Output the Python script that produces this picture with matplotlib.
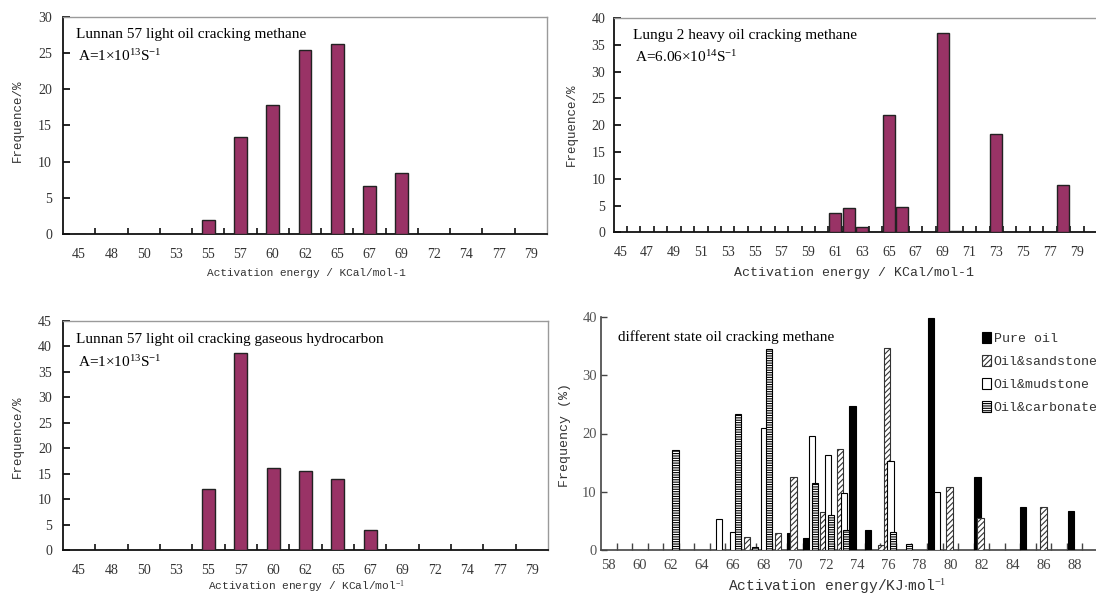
import matplotlib
matplotlib.use("Agg")
import matplotlib.pyplot as plt
from matplotlib.ticker import FixedLocator, MultipleLocator

# ---------------- data ----------------
cats1 = ["45", "48", "50", "53", "55", "57", "60", "62", "65", "67", "69", "72", "74", "77", "79"]
methane_light = [0, 0, 0, 0, 2.0, 13.4, 17.9, 25.5, 26.3, 6.7, 8.5, 0, 0, 0, 0]
gas_light = [0, 0, 0, 0, 12.0, 38.8, 16.1, 15.5, 14.0, 3.9, 0, 0, 0, 0, 0]

heavy_cats = [45, 46, 47, 48, 49, 50, 51, 52, 53, 54, 55, 56, 57, 58, 59, 60, 61, 62,
              63, 64, 65, 66, 67, 68, 69, 70, 71, 72, 73, 74, 75, 76, 77, 78, 79, 80]
heavy_e = [61, 62, 63, 65, 66, 69, 70, 73, 78]
heavy_v = [3.6, 4.5, 0.95, 21.9, 4.7, 37.2, 0.2, 18.4, 8.85]

pure_e = [69.7, 70.7, 73.7, 74.7, 78.75, 81.75, 84.7, 87.8]
pure_v = [2.9, 2.0, 24.8, 3.4, 39.8, 12.5, 7.4, 6.7]
sand_e = [66.9, 68.9, 69.9, 71.8, 72.9, 75.55, 75.9, 79.95, 81.95, 86.0]
sand_v = [2.2, 2.9, 12.5, 6.5, 17.4, 0.8, 34.7, 10.8, 5.4, 7.4]
mud_e = [65.1, 66.0, 68.0, 71.1, 72.1, 73.15, 76.15, 79.15]
mud_v = [5.2, 3.1, 21.0, 19.5, 16.3, 9.8, 15.2, 10.0]
carb_e = [62.3, 66.3, 67.4, 68.3, 71.3, 72.3, 73.3, 76.3, 77.35]
carb_v = [17.2, 23.4, 0.5, 34.5, 11.4, 6.0, 3.4, 3.0, 1.0]
diff_labels = ["58", "60", "62", "64", "66", "68", "70", "72", "74", "76", "78", "80", "82", "84", "86", "88"]
diff_ticks = [58, 60, 62, 64, 66, 68, 70, 72, 74, 76, 78, 80, 82, 84, 86, 88]

# ---------------- style ----------------
plt.rcParams["mathtext.fontset"] = "custom"
plt.rcParams["mathtext.rm"] = "Liberation Serif"
plt.rcParams["mathtext.it"] = "Liberation Serif:italic"
plt.rcParams["hatch.linewidth"] = 0.8
SERIF = "Liberation Serif"
MONO = "Liberation Mono"
BAR = "#993366"
TXT = "#333333"

W, H = 1096, 596
fig = plt.figure(figsize=(W / 100, H / 100), dpi=100)


def px_axes(l, t, r, b):
    return fig.add_axes([l / W, 1 - b / H, (r - l) / W, (b - t) / H])


def excel_frame(ax):
    for s in ("left", "bottom"):
        ax.spines[s].set_color("#111111")
        ax.spines[s].set_linewidth(1.3)
    for s in ("top", "right"):
        ax.spines[s].set_color("#9a9a9a")
        ax.spines[s].set_linewidth(1.0)


def cat_panel(ax, cats, vals, ymax, ystep, title, aline):
    x = list(range(len(cats)))
    ax.bar(x, vals, width=0.4, color=BAR, edgecolor="#222222", linewidth=1.0, zorder=3)
    ax.set_xlim(-0.5, len(cats) - 0.5)
    ax.set_ylim(0, ymax)
    ax.set_xticks(x)
    ax.set_xticklabels(cats, fontfamily=SERIF, fontsize=10, color=TXT)
    ax.xaxis.set_minor_locator(FixedLocator([i + 0.5 for i in range(len(cats) - 1)]))
    ax.tick_params(axis="x", which="major", length=0, pad=10)
    ax.tick_params(axis="x", which="minor", direction="in", length=4, width=1.2, color="#111111")
    ax.yaxis.set_major_locator(MultipleLocator(ystep))
    ax.tick_params(axis="y", direction="in", length=5, width=1.2, pad=8, labelsize=10, labelcolor=TXT)
    for t in ax.get_yticklabels():
        t.set_fontfamily(SERIF)
    excel_frame(ax)
    ax.text(0.027, 0.92, title, transform=ax.transAxes, fontfamily=SERIF, fontsize=11, va="center")
    ax.text(0.03, 0.82, aline, transform=ax.transAxes, fontfamily=SERIF, fontsize=11, va="center")


# ---- panel 1 ----
ax1 = px_axes(63, 17, 547, 234)
cat_panel(ax1, cats1, methane_light, 30, 5, "Lunnan 57 light oil cracking methane",
          r"A=1$\times$10$^{\mathrm{13}}$S$^{\mathrm{-1}}$")
fig.text(306 / W, 1 - 273 / H, "Activation energy / KCal/mol-1", fontfamily=MONO, fontsize=8,
         color=TXT, ha="center", va="center")
fig.text(18 / W, 1 - 121 / H, "Frequence/%", fontfamily=MONO, fontsize=9, color=TXT,
         rotation=90, ha="center", va="center")

# ---- panel 2 ----
ax2 = px_axes(613.6, 18, 1097, 232.3)
ax2.bar(heavy_e, heavy_v, width=0.9, color=BAR, edgecolor="#222222", linewidth=1.0, zorder=3)
ax2.set_xlim(heavy_cats[0] - 0.5, heavy_cats[-1] + 0.5)
ax2.set_ylim(0, 40)
ax2.set_xticks(heavy_cats[::2])
ax2.set_xticklabels([str(c) for c in heavy_cats[::2]], fontfamily=SERIF, fontsize=10, color=TXT)
ax2.xaxis.set_minor_locator(FixedLocator([c + 0.5 for c in heavy_cats[:-1]]))
ax2.tick_params(axis="x", which="major", length=0, pad=10)
ax2.tick_params(axis="x", which="minor", direction="in", length=4, width=1.2, color="#111111")
ax2.yaxis.set_major_locator(MultipleLocator(5))
ax2.tick_params(axis="y", direction="in", length=5, width=1.2, pad=6, labelsize=10, labelcolor=TXT)
for t in ax2.get_yticklabels():
    t.set_fontfamily(SERIF)
excel_frame(ax2)
ax2.spines["right"].set_visible(False)
ax2.text(0.04, 0.92, "Lungu 2 heavy oil cracking methane", transform=ax2.transAxes,
         fontfamily=SERIF, fontsize=11, va="center")
ax2.text(0.045, 0.82, r"A=6.06$\times$10$^{\mathrm{14}}$S$^{\mathrm{-1}}$", transform=ax2.transAxes,
         fontfamily=SERIF, fontsize=11, va="center")
fig.text(854 / W, 1 - 273 / H, "Activation energy / KCal/mol-1", fontfamily=MONO, fontsize=9.5,
         color=TXT, ha="center", va="center")
fig.text(572 / W, 1 - 125 / H, "Frequence/%", fontfamily=MONO, fontsize=9, color=TXT,
         rotation=90, ha="center", va="center")

# ---- panel 3 ----
ax3 = px_axes(63, 321, 548, 550)
cat_panel(ax3, cats1, gas_light, 45, 5, "Lunnan 57 light oil cracking gaseous hydrocarbon",
          r"A=1$\times$10$^{\mathrm{13}}$S$^{\mathrm{-1}}$")
fig.text(306 / W, 1 - 587 / H, r"Activation energy / KCal/mol$^{\mathrm{-1}}$", fontfamily=MONO,
         fontsize=8, color=TXT, ha="center", va="center")
fig.text(18 / W, 1 - 437 / H, "Frequence/%", fontfamily=MONO, fontsize=9, color=TXT,
         rotation=90, ha="center", va="center")

# ---- panel 4 ----
ax4 = px_axes(601, 317.3, 1097, 549.7)
bw = 0.4
ax4.bar(pure_e, pure_v, width=bw, color="black", edgecolor="black", linewidth=0.8, zorder=3,
        label="Pure oil")
ax4.bar(sand_e, sand_v, width=bw, color="white", edgecolor="#333333", hatch="//////",
        linewidth=0.8, zorder=4, label="Oil&sandstone")
ax4.bar(mud_e, mud_v, width=bw, color="white", edgecolor="black", linewidth=0.8, zorder=5,
        label="Oil&mudstone")
ax4.bar(carb_e, carb_v, width=bw, color="white", edgecolor="black", hatch="-------",
        linewidth=0.8, zorder=6, label="Oil&carbonate")
ax4.set_xlim(57.5, 89.45)
ax4.set_ylim(0, 40)
ax4.set_xticks(diff_ticks)
ax4.set_xticklabels(diff_labels, fontfamily=SERIF, fontsize=10.5, color="#444444")
ax4.xaxis.set_minor_locator(FixedLocator([v + 0.5 for v in range(58, 89)]))
ax4.tick_params(axis="x", which="major", length=0, pad=7)
ax4.tick_params(axis="x", which="minor", direction="in", length=5, width=1.0, color="#444444")
ax4.set_yticks([0, 10, 20, 30, 40])
ax4.tick_params(axis="y", direction="in", length=4, width=1.0, pad=3, labelsize=10.5,
                labelcolor="#555555", color="#444444")
for t in ax4.get_yticklabels():
    t.set_fontfamily(SERIF)
for s in ("top", "right"):
    ax4.spines[s].set_visible(False)
for s in ("left", "bottom"):
    ax4.spines[s].set_color("#444444")
    ax4.spines[s].set_linewidth(1.2)
ax4.text(618 / W, 1 - 337 / H, "different state oil cracking methane", transform=fig.transFigure,
         fontfamily=SERIF, fontsize=11, va="center")
leg = ax4.legend(loc="upper left", bbox_to_anchor=(982 / W, 1 - 332 / H),
                 bbox_transform=fig.transFigure, frameon=False, handlelength=0.7,
                 handleheight=0.9, handletextpad=0.2, labelspacing=0.75, borderaxespad=0,
                 borderpad=0, prop={"family": MONO, "size": 9.5})
for t in leg.get_texts():
    t.set_color("#333333")
fig.text(837 / W, 1 - 587 / H, r"Activation energy/KJ$\cdot$mol$^{\mathrm{-1}}$", fontfamily=MONO,
         fontsize=10.5, color=TXT, ha="center", va="center")
fig.text(565 / W, 1 - 435 / H, "Frequency (%)", fontfamily=MONO, fontsize=9.5, color=TXT,
         rotation=90, ha="center", va="center")

fig.savefig("out.png", dpi=100)
